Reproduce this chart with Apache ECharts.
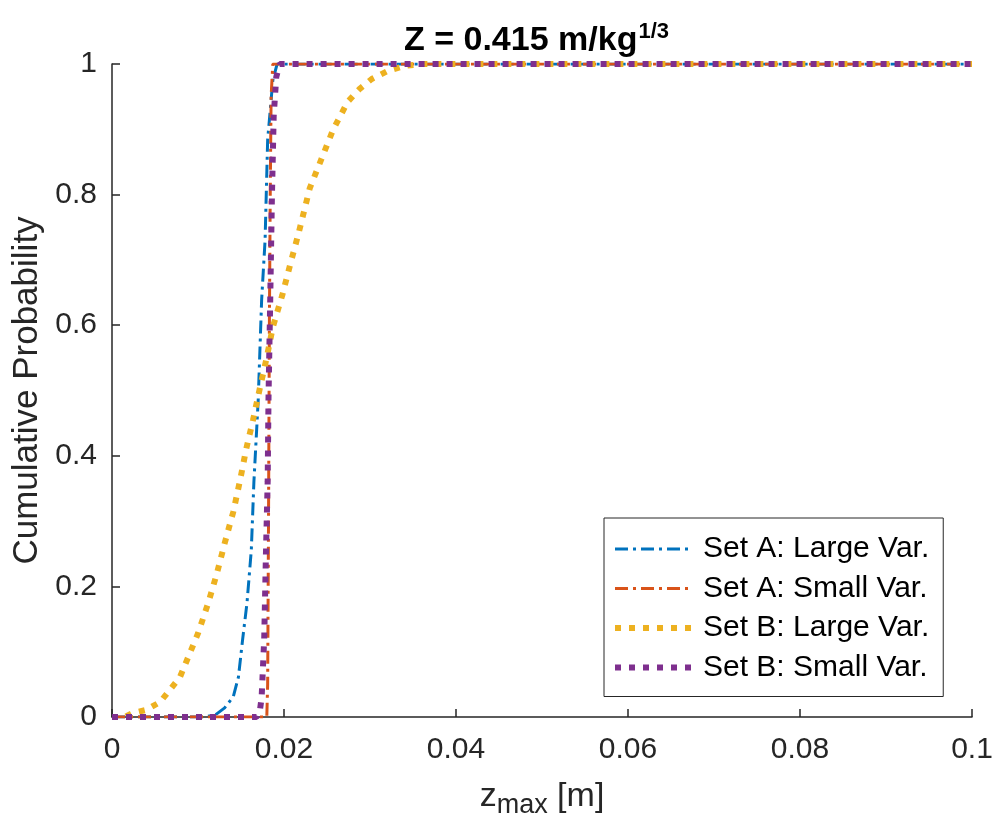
<!DOCTYPE html>
<html>
<head>
<meta charset="utf-8">
<script src="https://cdn.jsdelivr.net/npm/echarts@6/dist/echarts.min.js"></script>
<style>
html, body { margin: 0; padding: 0; background: #fff; }
#main { width: 993px; height: 827px; }
</style>
</head>
<body>
<div id="main"></div>
<script>
var xTicks = [0, 0.02, 0.04, 0.06, 0.08, 0.1];
var yTicks = [0, 0.2, 0.4, 0.6, 0.8, 1];
var seriesNames = ['Set A: Large Var.', 'Set A: Small Var.', 'Set B: Large Var.', 'Set B: Small Var.'];
var colors = ['#0072BD', '#D95319', '#EDB120', '#7E2F8E'];

// Set A, large variation
var aLargeX = [0, 0.0105, 0.0120, 0.0131, 0.0141, 0.0147, 0.0152, 0.0157, 0.0162, 0.0165, 0.0170, 0.0174, 0.0178, 0.0181, 0.0187, 0.0192, 0.1];
var aLargeY = [0, 0, 0.003, 0.014, 0.031, 0.061, 0.12, 0.175, 0.256, 0.36, 0.485, 0.639, 0.73, 0.884, 0.975, 1, 1];

// Set A, small variation
var aSmallX = [0, 0.0180, 0.0181, 0.0182, 0.0183, 0.0184, 0.0185, 0.0187, 0.1];
var aSmallY = [0, 0, 0.05, 0.3, 0.6, 0.8, 0.95, 1, 1];

// Set B, large variation
var bLargeX = [0, 0.0015, 0.0024, 0.0040, 0.0056, 0.0079, 0.0100, 0.0112, 0.0122, 0.0131, 0.0141, 0.0149, 0.0156, 0.0164, 0.0172, 0.0180, 0.0187, 0.0198, 0.0207, 0.0217, 0.0230, 0.0244, 0.0257, 0.0274, 0.0288, 0.0302, 0.0320, 0.0340, 0.0360, 0.1];
var bLargeY = [0, 0, 0.006, 0.011, 0.023, 0.061, 0.128, 0.175, 0.22, 0.266, 0.314, 0.363, 0.41, 0.455, 0.504, 0.551, 0.597, 0.646, 0.692, 0.741, 0.810, 0.856, 0.899, 0.942, 0.962, 0.977, 0.989, 0.997, 1, 1];

// Set B, small variation
var bSmallX = [0, 0.0168, 0.0172, 0.0174, 0.0177, 0.0179, 0.0181, 0.0182, 0.0184, 0.0186, 0.0188, 0.0191, 0.0195, 0.1];
var bSmallY = [0, 0, 0.01, 0.03, 0.12, 0.25, 0.36, 0.49, 0.64, 0.8, 0.92, 0.98, 1, 1];

function pairs(xs, ys) {
    return xs.map(function (x, i) { return [x, ys[i]]; });
}

var font = 'Liberation Sans, Arial, Helvetica, sans-serif';
var ink = '#262626';

var dashDot = { width: 3, type: [13, 5, 3, 5] };
var dotted = { width: 6, type: [6, 8] };
var styles = [dashDot, dashDot, dotted, dotted];

var chart = echarts.init(document.getElementById('main'));

var option = {
    animation: false,
    textStyle: { fontFamily: font },
    title: {
        text: '{a|Z = 0.415 m/kg}{sup|1/3}',
        left: 399,
        top: 16,
        textStyle: {
            rich: {
                a: { fontFamily: font, fontSize: 34, fontWeight: 'bold', color: '#000' },
                sup: { fontFamily: font, fontSize: 22, fontWeight: 'bold', color: '#000', padding: [0, 0, 18, 1] }
            }
        }
    },
    grid: { left: 112, right: 21, top: 64, bottom: 110, outerBoundsMode: 'none', containLabel: false },
    legend: {
        orient: 'vertical',
        left: 604,
        top: 518,
        padding: [16, 14, 14, 8],
        itemWidth: 78,
        itemHeight: 14,
        itemGap: 9.5,
        backgroundColor: '#fff',
        borderColor: ink,
        borderWidth: 1,
        borderRadius: 0,
        itemStyle: { opacity: 0 },
        textStyle: { fontFamily: font, fontSize: 30, color: '#000', padding: [0, 0, 0, 5] },
        data: seriesNames.map(function (n, i) {
            return {
                name: n,
                itemStyle: { opacity: 0 },
                lineStyle: { color: colors[i], width: styles[i].width, type: styles[i].type, opacity: 1 }
            };
        })
    },
    xAxis: {
        type: 'value',
        min: xTicks[0],
        max: xTicks[xTicks.length - 1],
        interval: 0.02,
        name: '{z|z}{sub|max}{n| [m]}',
        nameLocation: 'middle',
        nameGap: 57,
        nameTextStyle: {
            rich: {
                z: { fontFamily: font, fontSize: 34, color: ink },
                sub: { fontFamily: font, fontSize: 27, color: ink, padding: [18, 0, 0, 0] },
                n: { fontFamily: font, fontSize: 34, color: ink }
            }
        },
        axisLine: { lineStyle: { color: ink, width: 1.5 } },
        axisTick: { inside: true, length: 8, lineStyle: { color: ink, width: 1.5 } },
        axisLabel: {
            fontSize: 30, color: ink, margin: 18,
            formatter: function (v) { return String(+v.toFixed(2)); }
        },
        splitLine: { show: false }
    },
    yAxis: {
        type: 'value',
        min: yTicks[0],
        max: yTicks[yTicks.length - 1],
        interval: 0.2,
        name: 'Cumulative Probability',
        nameLocation: 'middle',
        nameGap: 67,
        nameTextStyle: { fontFamily: font, fontSize: 35, color: ink },
        axisLine: { lineStyle: { color: ink, width: 1.5 } },
        axisTick: { inside: true, length: 8, lineStyle: { color: ink, width: 1.5 } },
        axisLabel: {
            fontSize: 30, color: ink, margin: 15,
            formatter: function (v) { return String(+v.toFixed(1)); }
        },
        splitLine: { show: false }
    },
    series: [
        {
            name: seriesNames[0], type: 'line', symbol: 'none',
            lineStyle: { color: colors[0], width: dashDot.width, type: dashDot.type },
            itemStyle: { color: colors[0] },
            data: pairs(aLargeX, aLargeY)
        },
        {
            name: seriesNames[1], type: 'line', symbol: 'none',
            lineStyle: { color: colors[1], width: dashDot.width, type: dashDot.type },
            itemStyle: { color: colors[1] },
            data: pairs(aSmallX, aSmallY)
        },
        {
            name: seriesNames[2], type: 'line', symbol: 'none',
            lineStyle: { color: colors[2], width: dotted.width, type: dotted.type },
            itemStyle: { color: colors[2] },
            data: pairs(bLargeX, bLargeY)
        },
        {
            name: seriesNames[3], type: 'line', symbol: 'none',
            lineStyle: { color: colors[3], width: dotted.width, type: dotted.type },
            itemStyle: { color: colors[3] },
            data: pairs(bSmallX, bSmallY)
        }
    ]
};

chart.setOption(option);
</script>
</body>
</html>
